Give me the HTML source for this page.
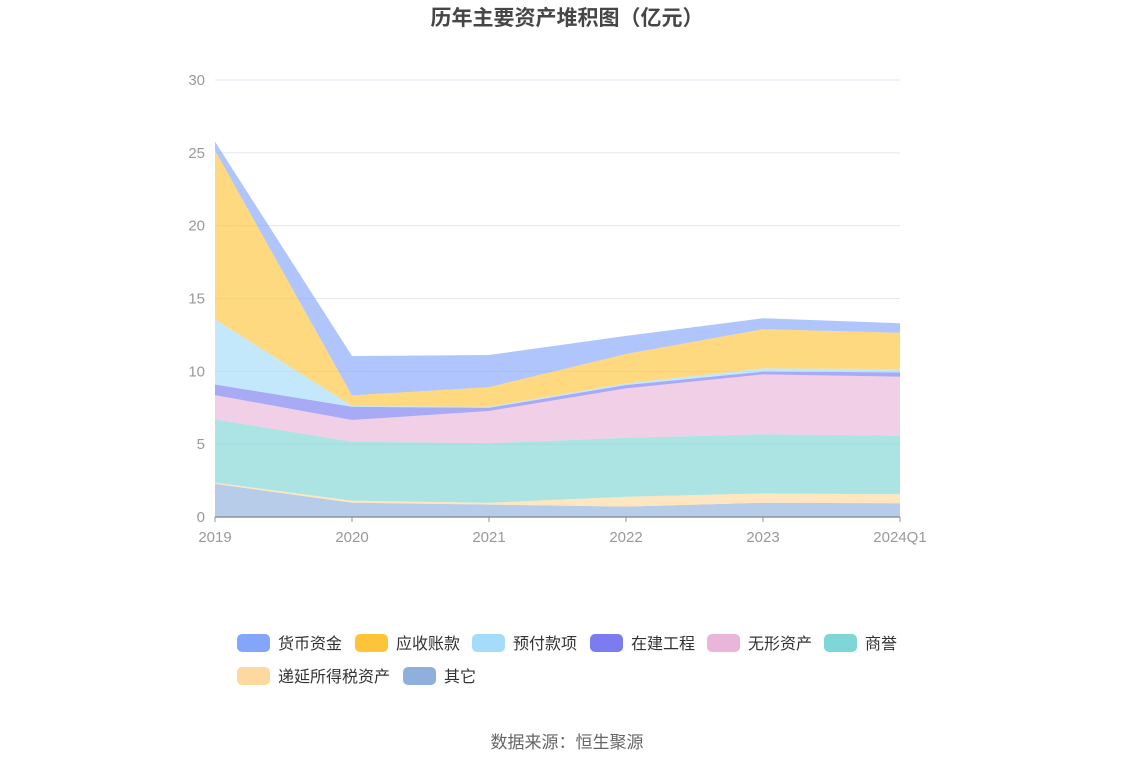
<!DOCTYPE html>
<html><head><meta charset="utf-8"><style>
body{margin:0;background:#fff;font-family:"Liberation Sans","Noto Sans CJK SC",sans-serif}
svg text{font-family:"Liberation Sans","Noto Sans CJK SC",sans-serif}
</style></head><body>
<svg id="c" width="1134" height="766">
<text x="567" y="25" text-anchor="middle" font-size="21" font-weight="bold" fill="#464646">历年主要资产堆积图（亿元）</text>
<g id="grid"></g><g id="areas"></g><g id="axes"></g><g id="legend"></g>
<text x="567" y="748" text-anchor="middle" font-size="17" fill="#666">数据来源：恒生聚源</text>
</svg>
<script>
const categories=["2019","2020","2021","2022","2023","2024Q1"];
const seriesNames=["其它","递延所得税资产","商誉","无形资产","在建工程","预付款项","应收账款","货币资金"];
const s_other=[2.27,0.98,0.85,0.71,0.98,0.94];
const s_deferred=[0.09,0.14,0.13,0.68,0.64,0.62];
const s_goodwill=[4.34,4.05,4.08,4.05,4.05,4.02];
const s_intangible=[1.67,1.49,2.22,3.39,4.12,4.05];
const s_construction=[0.73,0.91,0.22,0.23,0.19,0.3];
const s_prepaid=[4.47,0.05,0.07,0.12,0.22,0.23];
const s_receivable=[11.6,0.73,1.35,2.01,2.7,2.49];
const s_cash=[0.6,2.7,2.2,1.24,0.74,0.65];
const yTicks=[0,5,10,15,20,25,30];
const series=[s_other,s_deferred,s_goodwill,s_intangible,s_construction,s_prepaid,s_receivable,s_cash];
const colors=["#8fb0dc","#fdd9a0","#7fd6d6","#e9b5d8","#7b7cf0","#a5dcf9","#fdc43a","#84a6fa"];
const NS="http://www.w3.org/2000/svg";
const X0=215,X1=900,Y0=517,Y1=80,YMAX=30;
const xs=i=>X0+(X1-X0)*i/(categories.length-1);
const ys=v=>Y0-(Y0-Y1)*v/YMAX;
function mk(t,a,p){const e=document.createElementNS(NS,t);for(const k in a)e.setAttribute(k,a[k]);p.appendChild(e);return e;}
const grid=document.getElementById('grid'),axes=document.getElementById('axes'),areas=document.getElementById('areas'),legend=document.getElementById('legend');
yTicks.forEach(t=>{
 if(t>0){const l=mk('line',{x1:X0,x2:X1,y1:ys(t),y2:ys(t),stroke:'#e3e7f3','stroke-width':1},grid);
 
 }
 const tx=mk('text',{x:205,y:ys(t)+5,'text-anchor':'end','font-size':15,fill:'#999'},axes);tx.textContent=t;
 
 
});
let base=categories.map(()=>0);
series.forEach((s,k)=>{
 const top=base.map((b,i)=>b+s[i]);
 let d='M'+categories.map((c,i)=>xs(i)+','+ys(top[i])).join('L');
 for(let i=categories.length-1;i>=0;i--)d+='L'+xs(i)+','+ys(base[i]);
 const p=mk('path',{d:d+'Z',fill:colors[k],'fill-opacity':0.65},areas);
 
 
 base=top;
});
const ax=mk('line',{x1:X0,x2:X1,y1:Y0,y2:Y0,stroke:'#8a94a6','stroke-width':1.5},axes);


categories.forEach((c,i)=>{
 mk('line',{x1:xs(i),x2:xs(i),y1:Y0,y2:Y0+5,stroke:'#8a94a6'},axes);
 const t=mk('text',{x:xs(i),y:542,'text-anchor':'middle','font-size':15,fill:'#999'},axes);t.textContent=c;
 
 
});
const legOrder=[7,6,5,4,3,2,1,0];
const legPos=[[237,643],[355,643],[472,643],[590,643],[707,643],[824,643],[237,676],[403,676]];
legOrder.forEach((k,j)=>{
 const g=mk('g',{},legend);
 
 
 const [lx,ly]=legPos[j];
 mk('rect',{x:lx,y:ly-9,width:33,height:18,rx:5,fill:colors[k]},g);
 const t=mk('text',{x:lx+41,y:ly+6,'font-size':16,fill:'#333'},g);t.textContent=seriesNames[k];
});
</script>
</body></html>
